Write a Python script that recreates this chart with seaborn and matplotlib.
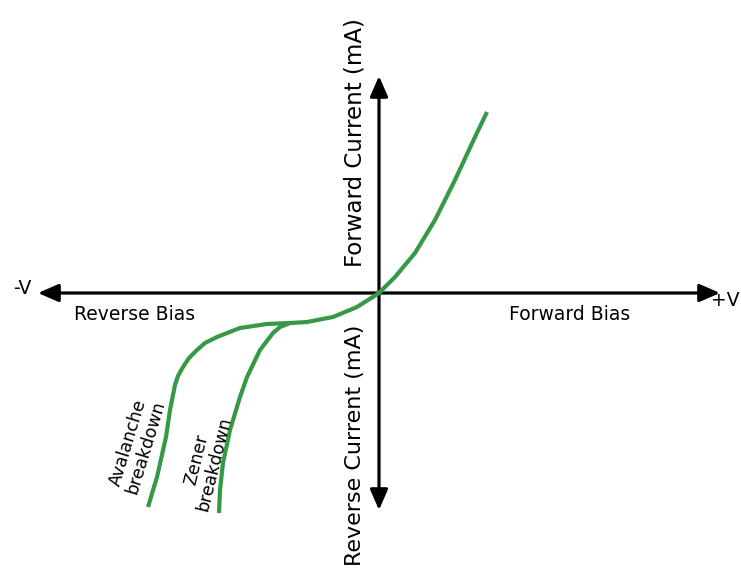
import matplotlib
matplotlib.use("Agg")
import matplotlib.pyplot as plt
import seaborn as sns
import pandas as pd

# Main diode curve (reverse leakage + avalanche branch, then forward branch),
# values (x = voltage-like, y = current-like)
main_x = [-231, -222, -213, -209, -204, -201, -196, -190, -182, -174, -162,
          -139, -112, -89, -72, -46, -22, 0, 16, 36, 56, 76, 96, 108]
main_y = [-214, -184, -144, -117, -92, -83, -74, -65, -57, -50, -44,
          -35, -31, -30, -29, -24, -14, 0, 16, 40, 73, 113, 156, 181]

# Zener breakdown branch
zener_x = [-89, -99, -106, -119, -132, -139, -149, -156, -159, -160]
zener_y = [-30, -34, -40, -57, -84, -104, -137, -170, -197, -220]

green = "#379845"

sns.set_theme(style="white")
plt.rcParams['font.family'] = ['DejaVu Sans']
plt.rcParams['text.color'] = 'black'

fig = plt.figure(figsize=(7.41, 5.75), dpi=100)
ax = fig.add_axes([0, 0, 1, 1])

df_m = pd.DataFrame({"x": main_x, "y": main_y})
df_z = pd.DataFrame({"x": zener_x, "y": zener_y})
for d in (df_m, df_z):
    sns.lineplot(data=d, x="x", y="y", sort=False, ax=ax, color=green,
                 lw=3.0, solid_capstyle="butt", solid_joinstyle="round")

ax.set_xlim(-379, 362)
ax.set_ylim(-282, 293)
ax.axis("off")

astyle = "-|>,head_length=0.62,head_width=0.27"
akw = dict(arrowstyle=astyle, lw=2.3, color="black", mutation_scale=20,
           shrinkA=0, shrinkB=0)
ax.annotate("", xy=(341, 0), xytext=(0, 0), arrowprops=akw, zorder=1)
ax.annotate("", xy=(-341, 0), xytext=(0, 0), arrowprops=akw, zorder=1)
ax.annotate("", xy=(0, 217), xytext=(0, 0), arrowprops=akw, zorder=1)
ax.annotate("", xy=(0, -217), xytext=(0, 0), arrowprops=akw, zorder=1)

fs = 13.5
ax.text(-357, 5, "-V", fontsize=fs, ha="center", va="center")
ax.text(361, -8, "+V", fontsize=fs, ha="right", va="center")
ax.text(-244, -22, "Reverse Bias", fontsize=fs, ha="center", va="center")
ax.text(191, -22, "Forward Bias", fontsize=fs, ha="center", va="center")
ax.text(-24, 150, "Forward Current (mA)", fontsize=16.5, rotation=90,
        ha="center", va="center")
ax.text(-24, -152, "Reverse Current (mA)", fontsize=16, rotation=90,
        ha="center", va="center")
ax.text(-242, -152, "Avalanche\nbreakdown", fontsize=12.5, rotation=73,
        ha="center", va="center", linespacing=1.0, rotation_mode="anchor")
ax.text(-174, -169, "Zener\nbreakdown", fontsize=12.5, rotation=76,
        ha="center", va="center", linespacing=1.0, rotation_mode="anchor")

fig.savefig("out.png", dpi=100)
